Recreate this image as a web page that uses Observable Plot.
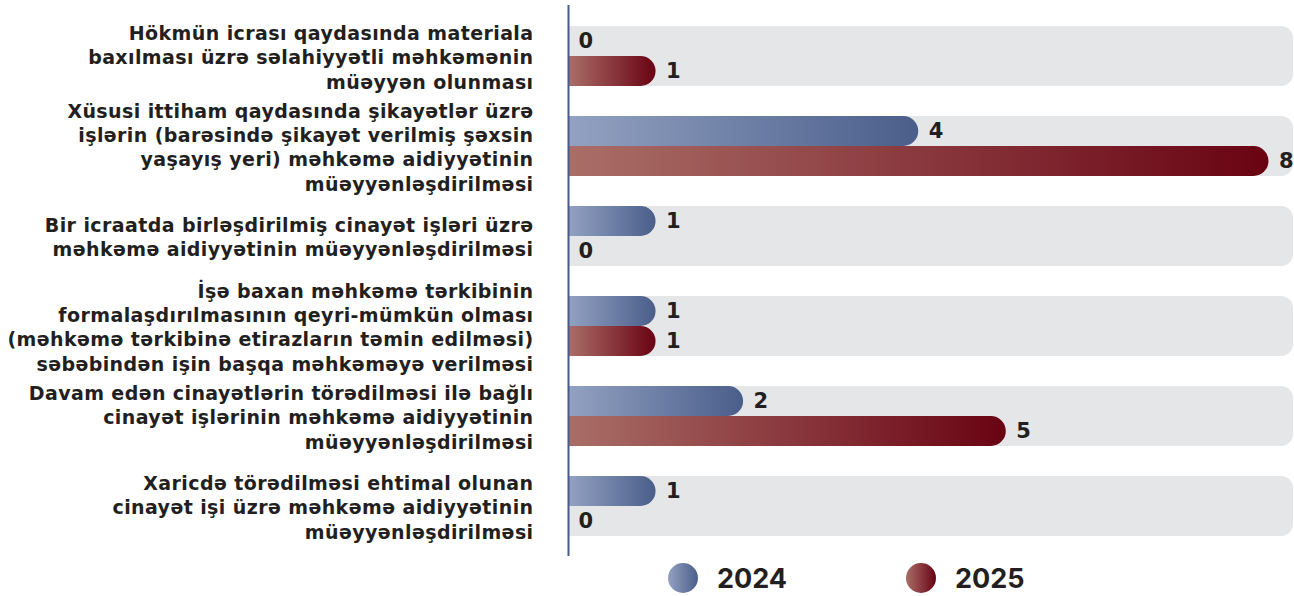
<!DOCTYPE html>
<html><head><meta charset="utf-8">
<script src="https://cdn.jsdelivr.net/npm/d3@7"></script>
<script src="https://cdn.jsdelivr.net/npm/@observablehq/plot@0.6"></script>
<style>
body{margin:0;background:#fff;font-family:Inter,"Open Sans",sans-serif;}
#legend{position:relative;width:1294px;height:36px;}
.item{position:absolute;top:0;height:36px;display:flex;align-items:center;}
.dot{width:30px;height:30px;border-radius:50%;}
.lab{margin-left:19px;font-weight:700;font-size:27px;color:#231f20;}
</style></head><body>
<div id="chart"></div>
<div id="legend"></div>
<script>
const categories = [
  "Hökmün icrası qaydasında materiala\nbaxılması üzrə səlahiyyətli məhkəmənin\nmüəyyən olunması",
  "Xüsusi ittiham qaydasında şikayətlər üzrə\nişlərin (barəsində şikayət verilmiş şəxsin\nyaşayış yeri) məhkəmə aidiyyətinin\nmüəyyənləşdirilməsi",
  "Bir icraatda birləşdirilmiş cinayət işləri üzrə\nməhkəmə aidiyyətinin müəyyənləşdirilməsi",
  "İşə baxan məhkəmə tərkibinin\nformalaşdırılmasının qeyri-mümkün olması\n(məhkəmə tərkibinə etirazların təmin edilməsi)\nsəbəbindən işin başqa məhkəməyə verilməsi",
  "Davam edən cinayətlərin törədilməsi ilə bağlı\ncinayət işlərinin məhkəmə aidiyyətinin\nmüəyyənləşdirilməsi",
  "Xaricdə törədilməsi ehtimal olunan\ncinayət işi üzrə məhkəmə aidiyyətinin\nmüəyyənləşdirilməsi"
];
const years = ["2024", "2025"];
const values2024 = [0, 4, 1, 1, 2, 1];
const values2025 = [1, 8, 0, 1, 5, 0];
const trackMax = 8.28;

const rows2024 = categories.map((c, i) => ({category: c, year: years[0], value: values2024[i]}));
const rows2025 = categories.map((c, i) => ({category: c, year: years[1], value: values2025[i]}));

const chart = Plot.plot({
  width: 1294, height: 560,
  marginLeft: 568, marginRight: 1, marginTop: 5, marginBottom: 4,
  x: {domain: [0, trackMax], axis: null},
  y: {domain: categories, paddingInner: 0.338, paddingOuter: 0.21, axis: null},
  style: {fontFamily: "Inter, 'Open Sans', sans-serif", color: "#231f20", background: "#fff"},
  marks: [
    Plot.barX(categories, {y: d => d, x1: 0, x2: trackMax, fill: "#e5e6e8"}),
    Plot.barX(rows2024, {y: "category", x: "value", fill: "#4b5f8b", insetBottom: 30}),
    Plot.barX(rows2025, {y: "category", x: "value", fill: "#6a0614", insetTop: 30}),
    Plot.ruleX([0], {stroke: "#4a5b8b", strokeWidth: 2}),
    Plot.axisY({tickSize: 0, tickPadding: 35, fontSize: 19, fontWeight: 700, fontFamily: "'DejaVu Sans', sans-serif", lineHeight: 1.28, label: null, fill: "#231f20"}),
    Plot.text(rows2024, {x: "value", y: "category", text: d => String(d.value), dx: 10, dy: -15, textAnchor: "start", fontSize: 21, fontWeight: 700, fontFamily: "'DejaVu Sans', sans-serif", fill: "#231f20"}),
    Plot.text(rows2025, {x: "value", y: "category", text: d => String(d.value), dx: 10, dy: 15, textAnchor: "start", fontSize: 21, fontWeight: 700, fontFamily: "'DejaVu Sans', sans-serif", fill: "#231f20"})
  ]
});

const svg = d3.select(chart);
svg.selectAll('g[aria-label="y-axis tick label"]').attr("letter-spacing", "0.4");
const defs = svg.insert("defs", ":first-child");
function grad(id, c0, c1) {
  const g = defs.append("linearGradient").attr("id", id).attr("x1", 0).attr("x2", 1).attr("y1", 0).attr("y2", 0);
  g.append("stop").attr("offset", 0).attr("stop-color", c0);
  g.append("stop").attr("offset", 1).attr("stop-color", c1);
}
grad("g2024", "#93a2c2", "#4a5e8a");
grad("g2025", "#aa6e67", "#690313");

const groups = svg.selectAll('g[aria-label="bar"]').nodes();
function roundRight(group, r, fill) {
  d3.select(group).selectAll("rect").each(function() {
    const x = +this.getAttribute("x"), y = +this.getAttribute("y");
    const w = +this.getAttribute("width"), h = +this.getAttribute("height");
    if (!(w > 0.5)) { this.remove(); return; }
    const rr = Math.min(r, h / 2, w);
    const p = document.createElementNS("http://www.w3.org/2000/svg", "path");
    p.setAttribute("d", `M${x},${y}H${x + w - rr}A${rr},${rr} 0 0 1 ${x + w},${y + rr}V${y + h - rr}A${rr},${rr} 0 0 1 ${x + w - rr},${y + h}H${x}Z`);
    p.setAttribute("fill", fill);
    this.replaceWith(p);
  });
}
roundRight(groups[0], 12, "#e5e6e8");
roundRight(groups[1], 15, "url(#g2024)");
roundRight(groups[2], 15, "url(#g2025)");

document.getElementById("chart").appendChild(chart);

const legend = d3.select("#legend");
const items = [
  {year: years[0], left: 668, bg: "linear-gradient(to right,#93a2c2,#4a5e8a)"},
  {year: years[1], left: 906, bg: "linear-gradient(to right,#aa6e67,#690313)"}
];
items.forEach(it => {
  const d = legend.append("div").attr("class", "item").style("left", it.left + "px");
  d.append("div").attr("class", "dot").style("background", it.bg);
  d.append("div").attr("class", "lab").text(it.year);
});
</script>
</body></html>
